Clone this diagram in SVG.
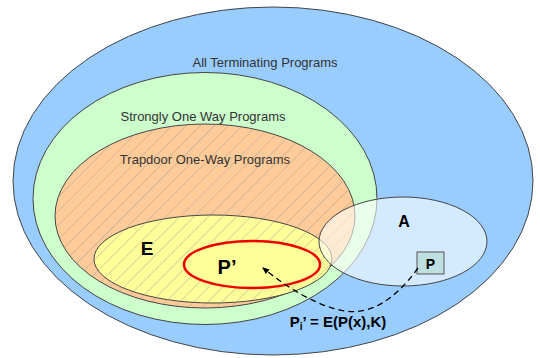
<svg xmlns="http://www.w3.org/2000/svg" width="540" height="358" viewBox="0 0 540 358">
<style>
.set{stroke:#444;stroke-width:1}
.lbl{font-family:"Liberation Sans",Arial,sans-serif;font-size:13px;fill:#333;text-anchor:middle}
.big{font-family:"Liberation Sans",Arial,sans-serif;font-weight:bold;fill:#000;text-anchor:middle}
</style>
<defs>
<pattern id="hatch" patternUnits="userSpaceOnUse" width="10" height="10" patternTransform="rotate(45)">
<line x1="0" y1="0" x2="0" y2="10" stroke="#999" stroke-width="0.8"/>
</pattern>
<marker id="arr" markerWidth="8" markerHeight="8" refX="6" refY="4" orient="auto" markerUnits="userSpaceOnUse">
<path d="M0,1 L7,4 L0,7 z" fill="#000"/>
</marker>
</defs>
<g id="all">
<ellipse class="set" cx="273" cy="181" rx="260" ry="174" fill="#99ccff"/>
<text class="lbl" x="265" y="67">All Terminating Programs</text>
</g>
<g id="strong">
<ellipse class="set" cx="205" cy="198.5" rx="172" ry="126" fill="#ccffcc"/>
<text class="lbl" x="203" y="121">Strongly One Way Programs</text>
</g>
<g id="trapdoor">
<ellipse class="set" cx="205" cy="216" rx="150" ry="92" fill="#ffcc99"/>
<ellipse cx="205" cy="216" rx="150" ry="92" fill="url(#hatch)"/>
<text class="lbl" x="205" y="164">Trapdoor One-Way Programs</text>
</g>
<g id="E">
<ellipse class="set" cx="213" cy="259" rx="119" ry="44" fill="#ffff99"/>
<ellipse cx="213" cy="259" rx="119" ry="44" fill="url(#hatch)"/>
<text class="big" x="147" y="255" font-size="19">E</text>
</g>
<g id="Pprime">
<ellipse cx="252" cy="264.5" rx="68" ry="23.5" fill="#ffff99" stroke="#ee0000" stroke-width="2.5"/>
<text class="big" x="227" y="274" font-size="20">P’</text>
</g>
<g id="A">
<ellipse class="set" cx="403" cy="241.5" rx="84" ry="44.5" fill="#ffffff" fill-opacity="0.58"/>
<text class="big" x="404" y="227" font-size="16">A</text>
</g>
<g id="P">
<rect x="417" y="252" width="27" height="22" fill="#bfe0e0" stroke="#555" stroke-width="1"/>
<text class="big" x="430.5" y="268.5" font-size="14">P</text>
</g>
<g id="connectors">
<path d="M418,268 C395,300 370,315 345,311 C320,307 290,290 263,268" fill="none" stroke="#000" stroke-width="1.3" stroke-dasharray="6,4" marker-end="url(#arr)"/>
</g>
<text class="big" x="338" y="327" font-size="15">P<tspan font-size="10" dy="3">i</tspan><tspan dy="-3">’ = E(P(x),K)</tspan></text>
</svg>
